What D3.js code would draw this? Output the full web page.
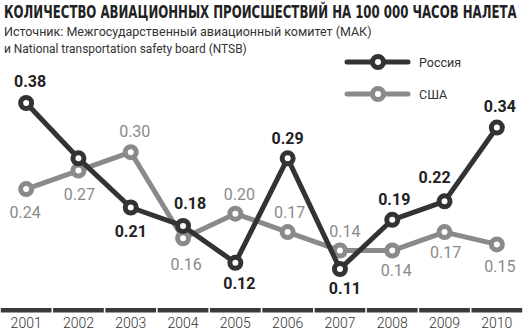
<!DOCTYPE html>
<html><head><meta charset="utf-8">
<script src="https://cdn.jsdelivr.net/npm/d3@7"></script>
<style>body{margin:0;background:#fff}svg{display:block}</style>
</head><body>
<svg id="c" width="523" height="331"></svg>
<script>
const years = ["2001","2002","2003","2004","2005","2006","2007","2008","2009","2010"];
const russia = [0.38,0.29,0.21,0.18,0.12,0.29,0.11,0.19,0.22,0.34];
const usa = [0.24,0.27,0.30,0.16,0.20,0.17,0.14,0.14,0.17,0.15];
const russiaLabels = ["0.38","","0.21","0.18","0.12","0.29","0.11","0.19","0.22","0.34"];
const usaLabels = ["0.24","0.27","0.30","0.16","0.20","0.17","0.14","0.14","0.17","0.15"];
// label offsets relative to point (dx, dy of text center)
const russiaOff = [[4,-22],[0,0],[0,24],[7,-23],[4,20],[0,-20],[5,19],[2,-21],[-10,-24],[3,-21]];
const usaOff = [[-1,23],[1,24],[4,-21],[3,26],[4,-19],[2,-20],[5,-19],[4,20],[1,20],[3,22]];
const title = "КОЛИЧЕСТВО АВИАЦИОННЫХ ПРОИСШЕСТВИЙ НА 100 000 ЧАСОВ НАЛЕТА";
const subtitle = ["Источник: Межгосударственный авиационный комитет (МАК)","и National transportation safety board (NTSB)"];
const subtitleWidth = [368,243];
const legendNames = ["Россия","США"];

const W=523,H=331;
const svg=d3.select("#c");
const cR="#333333", cU="#8a8a8a";
const x=d3.scaleBand().domain(years).range([0,W]).padding(0);
const cx=d=>x(d)+x.bandwidth()/2;
const y=d3.scaleLinear().domain([0,0.38]).range([336.6,336.6-0.38*614.8]);

// title: fit width naturally, then stretch vertically to match cap height
const tEl=svg.append("text").attr("font-family","DejaVu Sans Condensed").attr("font-weight","bold")
  .attr("font-size",17).attr("fill","#222").text(title);
const natural=tEl.node().getComputedTextLength();
const fs=17*513/natural;
tEl.attr("font-size",fs).attr("transform",`translate(4,17.5) scale(1,${17/fs})`);

subtitle.forEach((s,i)=>{
  const t=svg.append("text").attr("x",4).attr("y",36+i*16.5).attr("font-family","Roboto").attr("font-size",13)
    .attr("fill","#333").text(s);
  const w=t.node().getComputedTextLength();
  t.attr("font-size",13*subtitleWidth[i]/w);
});

// axis segments
svg.append("g").selectAll("rect").data(years).join("rect")
  .attr("x",d=>x(d)+0.8).attr("width",x.bandwidth()-1.6).attr("y",308).attr("height",4.5).attr("fill","#3a3a3a");
svg.append("g").selectAll("text").data(years).join("text")
  .attr("x",cx).attr("y",328).attr("text-anchor","middle").attr("font-family","Roboto").attr("font-weight",300)
  .attr("font-size",14).attr("fill","#333").text(d=>d);

function series(vals,color,labels,off,bold){
  const g=svg.append("g");
  const line=d3.line().x((d,i)=>cx(years[i])).y(d=>y(d));
  g.append("path").attr("d",line(vals)).attr("fill","none").attr("stroke",color).attr("stroke-width",5).attr("stroke-linejoin","round");
  g.selectAll("circle").data(vals).join("circle").attr("cx",(d,i)=>cx(years[i])).attr("cy",d=>y(d)).attr("r",5.5)
    .attr("fill","#fff").attr("stroke",color).attr("stroke-width",5);
  return {g,labels,off,vals,color,bold};
}
const sU=series(usa,cU,usaLabels,usaOff,false);
const sR=series(russia,cR,russiaLabels,russiaOff,true);
[sU,sR].forEach(s=>{
  s.g.selectAll("text.v").data(s.vals).join("text").attr("class","v")
    .attr("x",(d,i)=>cx(years[i])+s.off[i][0]).attr("y",(d,i)=>y(d)+s.off[i][1]).attr("dy","0.36em")
    .attr("text-anchor","middle").attr("font-family","Roboto").attr("font-weight",s.bold?700:400)
    .attr("font-size",16).attr("fill",s.bold?"#222":cU).text((d,i)=>s.labels[i]);
});

// legend
[[cR,legendNames[0],62],[cU,legendNames[1],94]].forEach(([c,n,ly])=>{
  const g=svg.append("g");
  g.append("line").attr("x1",347).attr("x2",408).attr("y1",ly).attr("y2",ly).attr("stroke",c).attr("stroke-width",5).attr("stroke-linecap","round");
  g.append("circle").attr("cx",378).attr("cy",ly).attr("r",5.5).attr("fill","#fff").attr("stroke",c).attr("stroke-width",5);
  g.append("text").attr("x",419).attr("y",ly).attr("dy","0.36em").attr("font-family","Roboto").attr("font-size",12.5).attr("fill","#333").text(n);
});
</script>
</body></html>
